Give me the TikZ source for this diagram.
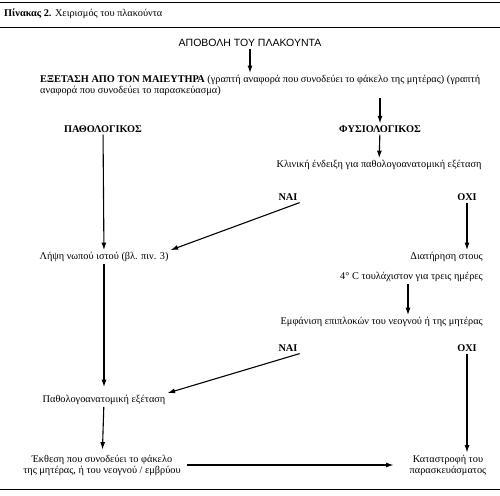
\documentclass[tikz,border=0pt]{standalone}
\usepackage{fontspec}
\setmainfont{Liberation Serif}
\newfontfamily\headfont{Liberation Sans}
\usetikzlibrary{positioning,arrows.meta}

\begin{document}
\begin{tikzpicture}[x=1pt, y=-1pt, font=\fontsize{10.3}{11}\selectfont,
  lbl/.style={inner sep=2pt, align=center},
  caps/.style={lbl, font=\fontsize{10.3}{11}\selectfont\bfseries},
  arr/.style={-{Latex[length=7.5pt,width=5pt]}, line width=1.1pt},
  rule/.style={line width=0.9pt}]
\useasboundingbox (0,0) rectangle (500,495);
% rules and caption
\draw[rule] (0,2) -- (500,2);
\draw[rule] (0,27) -- (500,27);
\draw[rule] (0,489) -- (500,489);
\node[lbl, anchor=west] (cap) at (2,14) {\textbf{Πίνακας 2.} Χειρισμός του πλακούντα};
% top of the chart
\node[lbl, font=\fontsize{10.5}{12}\selectfont\headfont] (apovoli) at (250,43) {ΑΠΟΒΟΛΗ ΤΟΥ ΠΛΑΚΟΥΝΤΑ};
\node[lbl, align=left, anchor=north west] (exetasi) at (38,73) {\textbf{ΕΞΕΤΑΣΗ ΑΠΟ ΤΟΝ ΜΑΙΕΥΤΗΡΑ} (γραπτή αναφορά που συνοδεύει το φάκελο της μητέρας) (γραπτή\\ αναφορά που συνοδεύει το παρασκεύασμα)};
\node[caps] (patho) at (103,129) {ΠΑΘΟΛΟΓΙΚΟΣ};
\node[caps] (fysio) at (380,129) {ΦΥΣΙΟΛΟΓΙΚΟΣ};
\node[lbl] (klin) at (379,165) {Κλινική ένδειξη για παθολογοανατομική εξέταση};
\node[caps] (nai1) at (288,197) {ΝΑΙ};
\node[caps] (oxi1) at (467,197) {ΟΧΙ};
% middle
\node[lbl] (lipsi) at (104,257) {Λήψη νωπού ιστού (βλ. πιν. 3)};
\node[lbl, anchor=east] (diat) at (485,257) {Διατήρηση στους};
\node[lbl, anchor=east] (thermo) at (485,277) {4° C τουλάχιστον για τρεις ημέρες};
\node[lbl, anchor=east] (emfan) at (485,322) {Εμφάνιση επιπλοκών του νεογνού ή της μητέρας};
\node[caps] (nai2) at (288,348) {ΝΑΙ};
\node[caps] (oxi2) at (467,348) {ΟΧΙ};
% bottom
\node[lbl] (pathan) at (104,400) {Παθολογοανατομική εξέταση};
\node[lbl] (ekth) at (102,465) {Έκθεση που συνοδεύει το φάκελο\\ της μητέρας, ή του νεογνού / εμβρύου};
\node[lbl] (katastr) at (448,465) {Καταστροφή του\\ παρασκευάσματος};
% connectors
\draw[arr] (apovoli) -- (apovoli |- exetasi.north);
\draw[arr] (fysio.north |- exetasi.south) -- (fysio);
\draw[arr] (fysio) -- (klin);
\draw[arr] (patho) -- (lipsi);
\draw[arr] (nai1.south east) -- (lipsi.north east);
\draw[arr] (oxi1) -- (oxi1 |- diat.north);
\draw[arr] (thermo.south -| 408,0) -- (emfan.north -| 408,0);
\draw[arr, shorten >=6pt] (lipsi) -- (pathan);
\draw[arr] (nai2.south east) -- (pathan.north east);
\draw[arr] (oxi2) -- (oxi2 |- katastr.north);
\draw[arr, shorten >=3pt] (pathan) -- (ekth);
\draw[arr, shorten <=4pt, shorten >=14pt] (ekth) -- (katastr);
\end{tikzpicture}
\end{document}
